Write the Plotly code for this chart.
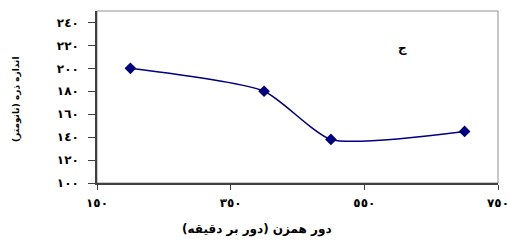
import plotly.graph_objects as go

speed = [200, 400, 500, 700]
size_nm = [200, 180, 138, 145]
x_ticks = [150, 350, 550, 750]
x_labels = ["١٥٠", "٣٥٠", "٥٥٠", "٧٥٠"]
y_ticks = [100, 120, 140, 160, 180, 200, 220, 240]
y_labels = ["١٠٠", "١٢٠", "١٤٠", "١٦٠", "١٨٠", "٢٠٠", "٢٢٠", "٢٤٠"]

fig = go.Figure()
fig.add_trace(go.Scatter(
    x=speed, y=size_nm, mode="lines+markers",
    line=dict(color="#000080", width=1.5, shape="spline", smoothing=0.6),
    marker=dict(symbol="diamond", size=9, color="#000080"),
    showlegend=False,
))

fnt = dict(family="DejaVu Sans, Arial", size=12, color="black", weight="bold")
fig.update_layout(
    width=508, height=241,
    margin=dict(l=97, r=10, t=11, b=58, autoexpand=False),
    paper_bgcolor="white", plot_bgcolor="white",
    xaxis=dict(range=[150, 750], tickvals=x_ticks, ticktext=x_labels,
               showgrid=False, zeroline=False, showline=True, linecolor="#404040",
               linewidth=1.5, ticks="outside", ticklen=5, tickcolor="#404040",
               tickfont=fnt, ticklabelstandoff=3, automargin=False,
               ticklabeloverflow="allow"),
    yaxis=dict(range=[100, 250], tickvals=y_ticks, ticktext=y_labels,
               showgrid=False, zeroline=False, showline=True, linecolor="#404040",
               linewidth=1.5, ticks="outside", ticklen=7, tickcolor="#404040",
               tickfont=fnt, ticklabelstandoff=7, automargin=False),
    shapes=[dict(type="rect", xref="paper", yref="paper", x0=0, y0=0, x1=1, y1=1,
                 line=dict(color="#909090", width=1), layer="below")],
    annotations=[
        dict(text="<b>ج</b>", xref="paper", yref="paper", x=(402 - 97) / 401,
             y=(183 - 48) / 172, xanchor="center", yanchor="middle",
             showarrow=False, font=dict(family="DejaVu Sans", size=12, color="black")),
        dict(text="<b>دور همزن (دور بر دقیقه)</b>", xref="paper", yref="paper",
             x=(257 - 97) / 401, y=-(229 - 183) / 172, xanchor="center", yanchor="middle",
             showarrow=False, font=dict(family="DejaVu Sans", size=12, color="black")),
        dict(text="<b>اندازه ذره (نانومتر)</b>", xref="paper", yref="paper",
             x=-(97 - 16) / 401, y=(183 - 100) / 172, xanchor="center", yanchor="middle",
             textangle=-90, showarrow=False,
             font=dict(family="DejaVu Sans", size=9, color="black")),
    ],
)
fig.write_html("out.html", config={"displayModeBar": False},
               post_script="document.body.style.margin='0';")
